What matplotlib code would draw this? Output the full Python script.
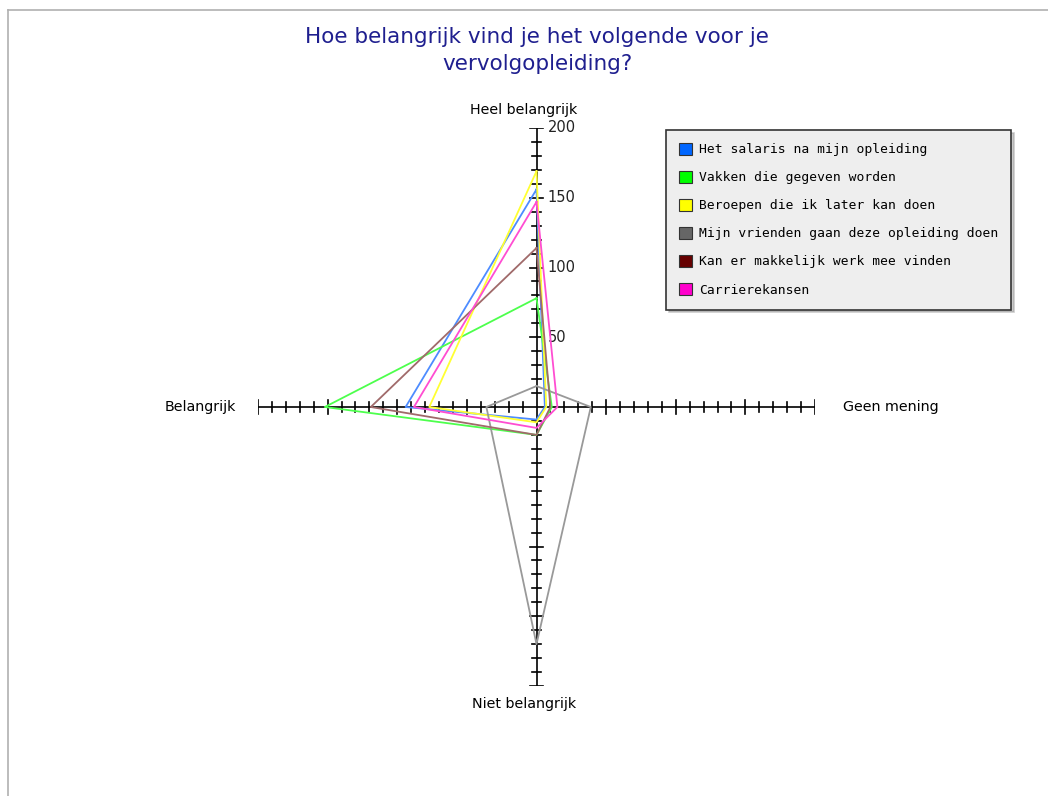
import matplotlib
matplotlib.use("Agg")
import matplotlib.pyplot as plt
import matplotlib.patches as mpatches
from matplotlib.lines import Line2D

# axes of the radar, clockwise from the top
axis_labels = ["Heel belangrijk", "Geen mening", "Niet belangrijk", "Belangrijk"]

series_names = [
    "Het salaris na mijn opleiding",
    "Vakken die gegeven worden",
    "Beroepen die ik later kan doen",
    "Mijn vrienden gaan deze opleiding doen",
    "Kan er makkelijk werk mee vinden",
    "Carrierekansen",
]
# values per series: [Heel belangrijk, Geen mening, Niet belangrijk, Belangrijk]
salaris = [156, 6, 9, 94]
vakken = [78, 11, 20, 152]
beroepen = [169, 7, 11, 77]
vrienden = [15, 39, 170, 36]
werk = [114, 10, 20, 119]
carriere = [147, 15, 15, 88]
series_values = [salaris, vakken, beroepen, vrienden, werk, carriere]

line_colors = ["#4d8cff", "#4dff4d", "#ffff33", "#999999", "#a06a6a", "#ff4dd2"]
legend_colors = ["#0066ff", "#00ff00", "#ffff00", "#666666", "#660000", "#ff00cc"]

tick_labels = ["50", "100", "150", "200"]
tick_values = [50, 100, 150, 200]

W, H = 1048, 796
fig = plt.figure(figsize=(W / 100, H / 100), dpi=100)
fig.patch.set_facecolor("white")

# thin frame lines top and left
fig.add_artist(Line2D([8 / W, 1.0], [1 - 10 / H, 1 - 10 / H], color="#b0b0b0", lw=1.2))
fig.add_artist(Line2D([8 / W, 8 / W], [0, 1 - 10 / H], color="#b0b0b0", lw=1.2))

fig.text(537 / W, 1 - 50.5 / H, "Hoe belangrijk vind je het volgende voor je\nvervolgopleiding?",
         ha="center", va="center", color="#1f1f8f", fontsize=15.5, linespacing=1.42)

ax = fig.add_axes([258 / W, 110 / H, 557 / W, 558 / H])
ax.set_xlim(-200, 200)
ax.set_ylim(-200, 200)
ax.axis("off")

# axis lines with ticks
ax.plot([-200, 200], [0, 0], color="black", lw=1.2, zorder=1)
ax.plot([0, 0], [-200, 200], color="black", lw=1.2, zorder=1)
for v in range(10, 201, 10):
    half = 5.0 if v % 50 == 0 else 3.5
    for s in (-1, 1):
        ax.plot([s * v, s * v], [-half, half], color="black", lw=1.2, zorder=1)
        ax.plot([-half, half], [s * v, s * v], color="black", lw=1.2, zorder=1)

for lab, v in zip(tick_labels, tick_values):
    ax.text(8, v, lab, ha="left", va="center", fontsize=10.5, color="#222222")

ax.text(-9, 208, axis_labels[0], ha="center", va="bottom", fontsize=10.3)
ax.text(220, 0, axis_labels[1], ha="left", va="center", fontsize=10.3)
ax.text(-9, -208, axis_labels[2], ha="center", va="top", fontsize=10.3)
ax.text(-216, 0, axis_labels[3], ha="right", va="center", fontsize=10.3)

for vals, col in zip(series_values, line_colors):
    top, right, bottom, left = vals
    xs = [0, right, 0, -left, 0]
    ys = [top, 0, -bottom, 0, top]
    ax.plot(xs, ys, color=col, lw=1.3, zorder=3)

handles = [mpatches.Patch(facecolor=c, edgecolor="#333333", lw=0.8) for c in legend_colors]
leg = fig.legend(handles, series_names, loc="upper left",
                 bbox_to_anchor=(666 / W, 1 - 130 / H),
                 prop={"family": "DejaVu Sans Mono", "size": 9.35},
                 frameon=True, fancybox=False, shadow={"color": "#999999"},
                 handlelength=1.0, handleheight=1.0, handletextpad=0.55,
                 labelspacing=1.14, borderpad=1.0, borderaxespad=0)
leg.get_frame().set_facecolor("#eeeeee")
leg.get_frame().set_edgecolor("#333333")
leg.get_frame().set_linewidth(1.2)
leg.get_frame().set_alpha(1)

fig.savefig("out.png", dpi=100, facecolor="white")
